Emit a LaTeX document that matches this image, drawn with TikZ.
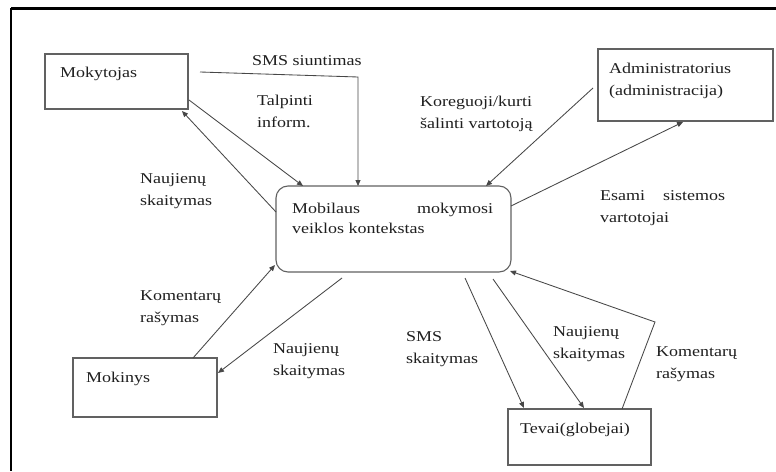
\documentclass[tikz,border=0pt]{standalone}
\usepackage{fontspec}
\setmainfont{Liberation Serif}[FakeStretch=1.2]
\usetikzlibrary{arrows.meta}
\definecolor{textgray}{gray}{0.12}
\definecolor{linegray}{gray}{0.28}
\definecolor{boxgray}{gray}{0.38}
\begin{document}
\begin{tikzpicture}[x=1pt,y=-1pt,
  box/.style={draw=boxgray, line width=1.1pt, inner sep=0pt},
  % multi-line labels sit on the baseline of their last line
  lbl/.style={anchor=base west, inner sep=0pt, align=left, text=textgray,
              font=\fontsize{15}{22}\selectfont},
  flow/.style={draw=linegray, line width=0.85pt, -{Triangle[length=6pt,width=5pt]}}]
\useasboundingbox (0,0) rectangle (776,471);
\fill[white] (0,0) rectangle (776,471);
% page frame
\draw[line width=3pt] (11,8) -- (776,8);
\draw[line width=2pt] (11,8) -- (11,471);

% boxes
\node[box, minimum width=143pt, minimum height=55pt] (mok) at (116.5,81.5) {};
\node[box, minimum width=175pt, minimum height=72pt] (adm) at (685.5,85) {};
\node[box, rounded corners=12pt, minimum width=235pt, minimum height=86pt] (ctx) at (393.5,229) {};
\node[box, minimum width=144pt, minimum height=59pt] (mkn) at (145,387.5) {};
\node[box, minimum width=143pt, minimum height=56pt] (tev) at (579.5,437) {};

% box texts
\node[lbl] (tmok) at (60,77) {Mokytojas};
\node[lbl] (tadm) at (609,95) {Administratorius\\(administracija)};
\node[lbl, font=\fontsize{15}{20}\selectfont] (tctx) at (292,233) {\hbox to 201pt{Mobilaus\hfill mokymosi}\\veiklos kontekstas};
\node[lbl] (tmkn) at (86,382) {Mokinys};
\node[lbl] (ttev) at (520,433) {Tevai(globejai)};

% connector end points
\coordinate (sA) at (200,72);
\coordinate (sB) at (358,77);
\coordinate (sC) at (358,186);
\coordinate (tA) at (189,100);
\coordinate (tB) at (303,186);
\coordinate (nA) at (276,212);
\coordinate (nB) at (182,111);
\coordinate (kA) at (593,88);
\coordinate (kB) at (486,186);
\coordinate (eA) at (511,206);
\coordinate (eB) at (683,122);
\coordinate (mA) at (193,358);
\coordinate (mB) at (275,265);
\coordinate (lA) at (342,278);
\coordinate (lB) at (218,373);
\coordinate (pA) at (465,278);
\coordinate (pB) at (524,408);
\coordinate (qA) at (493,279);
\coordinate (qB) at (584,408);
\coordinate (rA) at (622,409);
\coordinate (rB) at (655,322);
\coordinate (rC) at (510,271);

% connectors
\draw[flow] (sA) -- (sB) -- (sC);
\draw[flow] (tA) -- (tB);
\draw[flow] (nA) -- (nB);
\draw[flow] (kA) -- (kB);
\draw[flow] (eA) -- (eB);
\draw[flow] (mA) -- (mB);
\draw[flow] (lA) -- (lB);
\draw[flow] (pA) -- (pB);
\draw[flow] (qA) -- (qB);
\draw[flow] (rA) -- (rB) -- (rC);

% connector labels
\node[lbl] (l1) at (252,65) {SMS siuntimas};
\node[lbl] (l2) at (257,127) {Talpinti\\inform.};
\node[lbl] (l3) at (140,205) {Naujienų\\skaitymas};
\node[lbl] (l4) at (420,128) {Koreguoji/kurti\\šalinti vartotoją};
\node[lbl] (l5) at (600,222) {\hbox to 125pt{Esami\hfill sistemos}\\vartotojai};
\node[lbl] (l6) at (140,322) {Komentarų\\rašymas};
\node[lbl] (l7) at (273,375) {Naujienų\\skaitymas};
\node[lbl] (l8) at (406,363) {SMS\\skaitymas};
\node[lbl] (l9) at (553,358) {Naujienų\\skaitymas};
\node[lbl] (l10) at (656,378) {Komentarų\\rašymas};
\end{tikzpicture}
\end{document}
